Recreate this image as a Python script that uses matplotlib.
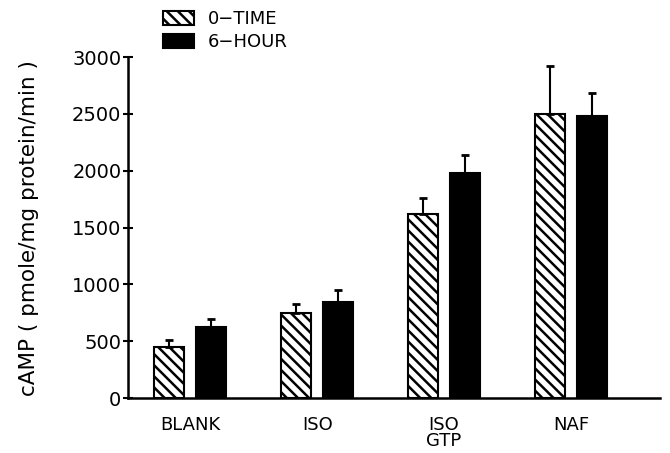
import matplotlib
matplotlib.use('Agg')
import matplotlib.pyplot as plt
import numpy as np

# Data
groups = ['BLANK', 'ISO', 'ISO\nGTP', 'NAF']
zero_time = [450, 750, 1620, 2500]
zero_time_err = [60, 80, 140, 420]
six_hour = [630, 850, 1980, 2480]
six_hour_err = [70, 100, 160, 200]
y_ticks = [0, 500, 1000, 1500, 2000, 2500, 3000]

plt.rcParams['font.family'] = ['DejaVu Sans']
plt.rcParams['hatch.linewidth'] = 1.8

fig = plt.figure(figsize=(6.7, 4.53), dpi=100)
ax = fig.add_axes([0.191, 0.121, 0.794, 0.753])

x = np.arange(len(groups))
w = 0.236
off = 0.167

b1 = ax.bar(x - off, zero_time, w, facecolor='white', edgecolor='black',
            hatch='\\\\\\', linewidth=1.5, label='0\u2212TIME')
b2 = ax.bar(x + off, six_hour, w, facecolor='black', edgecolor='black',
            linewidth=1.5, label='6\u2212HOUR')

ax.errorbar(x - off, zero_time, yerr=[[0] * 4, zero_time_err], fmt='none',
            ecolor='black', elinewidth=1.5, capsize=3, capthick=2)
ax.errorbar(x + off, six_hour, yerr=[[0] * 4, six_hour_err], fmt='none',
            ecolor='black', elinewidth=1.5, capsize=3, capthick=2)

ax.set_xlim(-0.49, 3.7)
ax.set_ylim(0, 3000)
ax.set_yticks(y_ticks)
ax.set_xticks(x)
ax.set_xticklabels(groups, fontsize=13, linespacing=0.85)
ax.tick_params(axis='x', length=0, pad=13)
ax.tick_params(axis='y', direction='inout', length=7.5, width=1.5, labelsize=14, pad=1)

for s in ['top', 'right']:
    ax.spines[s].set_visible(False)
for s in ['left', 'bottom']:
    ax.spines[s].set_linewidth(1.8)

ax.set_ylabel('cAMP ( pmole/mg protein/min )', fontsize=15.5, labelpad=24)

fig.legend(handles=[b1, b2], loc='upper left', bbox_to_anchor=(0.243, 0.978),
           frameon=False, fontsize=13, handlelength=1.7, handleheight=0.8,
           handletextpad=0.8, labelspacing=0.3, borderpad=0, borderaxespad=0)

fig.savefig('out.png', dpi=100)
